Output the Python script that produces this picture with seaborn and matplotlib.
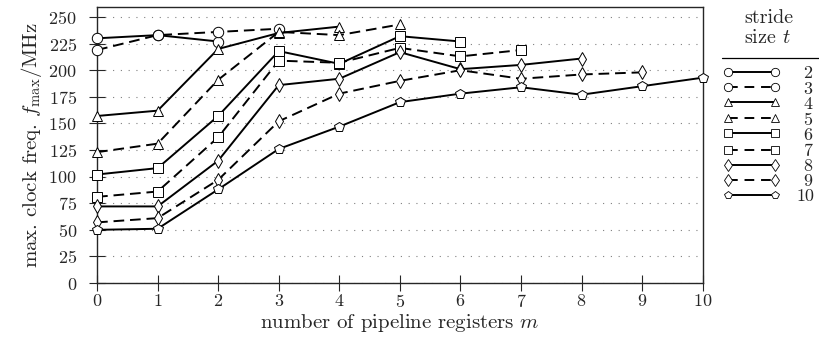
import numpy as np
import pandas as pd
import matplotlib
matplotlib.use("Agg")
import matplotlib.pyplot as plt
import seaborn as sns
from matplotlib.lines import Line2D

# --- Data: max clock frequency (MHz) per stride size t over pipeline registers m ---
strides = [2, 3, 4, 5, 6, 7, 8, 9, 10]
f_t2 = [230, 233, 227]
f_t3 = [219, 233, 236, 239]
f_t4 = [157, 162, 220, 235, 241]
f_t5 = [123, 131, 191, 236, 233, 243]
f_t6 = [102, 108, 157, 218, 206, 232, 227]
f_t7 = [81, 86, 137, 209, 207, 221, 213, 219]
f_t8 = [72, 72, 115, 186, 192, 217, 201, 205, 211]
f_t9 = [57, 61, 97, 152, 178, 190, 200, 192, 196, 198]
f_t10 = [50, 51, 88, 126, 147, 170, 178, 184, 177, 185, 193]
series = [f_t2, f_t3, f_t4, f_t5, f_t6, f_t7, f_t8, f_t9, f_t10]

markers = ["o", "o", "^", "^", "s", "s", "d", "d", "p"]

rows = []
for t, vals in zip(strides, series):
    for m, f in enumerate(vals):
        rows.append({"stride": t, "m": m, "fmax": f})
df = pd.DataFrame(rows)

# --- Style ---
sns.set_style("ticks")
plt.rcParams["font.family"] = ["cmr10", "DejaVu Serif"]
plt.rcParams["mathtext.fontset"] = "cm"
plt.rcParams["axes.formatter.use_mathtext"] = True
fs = 13

fig = plt.figure(figsize=(8.19, 3.46), dpi=100)
ax = fig.add_axes([0.1185, 0.182, 0.7395, 0.798])

handles = []
for i, t in enumerate(strides):
    sub = df[df["stride"] == t]
    ls = "-" if i % 2 == 0 else "--"
    sns.lineplot(data=sub, x="m", y="fmax", ax=ax, color="black", linewidth=1.4,
                 linestyle=ls, marker=markers[i], markersize=7.5,
                 markerfacecolor="white", markeredgecolor="black",
                 markeredgewidth=0.7, clip_on=False, zorder=3)
    if ls == "--":
        ax.lines[-1].set_dashes((5.5, 3))
    h = Line2D([0], [0], color="black", linewidth=1.4, linestyle=ls,
               marker=markers[i], markersize=6, markerfacecolor="white",
               markeredgecolor="black", markeredgewidth=0.6)
    if ls == "--":
        h.set_dashes((5, 3.5))
    handles.append(h)

ax.set_xlim(0, 10)
ax.set_ylim(0, 259.5)
ax.set_xticks(range(0, 11))
ax.set_yticks(range(0, 251, 25))
ax.tick_params(direction="inout", length=11, width=0.8, labelsize=fs)
ax.tick_params(axis="x", pad=2)
ax.tick_params(axis="y", pad=9)
for s in ax.spines.values():
    s.set_linewidth(1.0)
ax.yaxis.grid(True, linestyle=(0, (1, 6)), color="gray", linewidth=0.8)
ax.set_axisbelow(True)

ax.set_xlabel("number of pipeline registers $m$", fontsize=15, labelpad=1)
ax.set_ylabel(r"max. clock freq. $f_{\mathrm{max}}/\mathrm{MHz}$", fontsize=15, labelpad=3)

labels = [(r"$\enspace$" if t < 10 else "") + str(t) for t in strides]
leg = fig.legend(handles, labels, numpoints=2, frameon=False,
                 loc="upper left", bbox_to_anchor=(0.882, 0.975),
                 title="stride\nsize $t$", handlelength=3.2, labelspacing=-0.05,
                 handletextpad=0.9, fontsize=fs, title_fontsize=14.5,
                 borderaxespad=0.0, borderpad=0.0)
leg._legend_box.sep = 13

# line below the legend title
fig.add_artist(Line2D([0.882, 1.0], [0.832, 0.832], color="black", linewidth=0.9))

fig.savefig("out.png", dpi=100)
